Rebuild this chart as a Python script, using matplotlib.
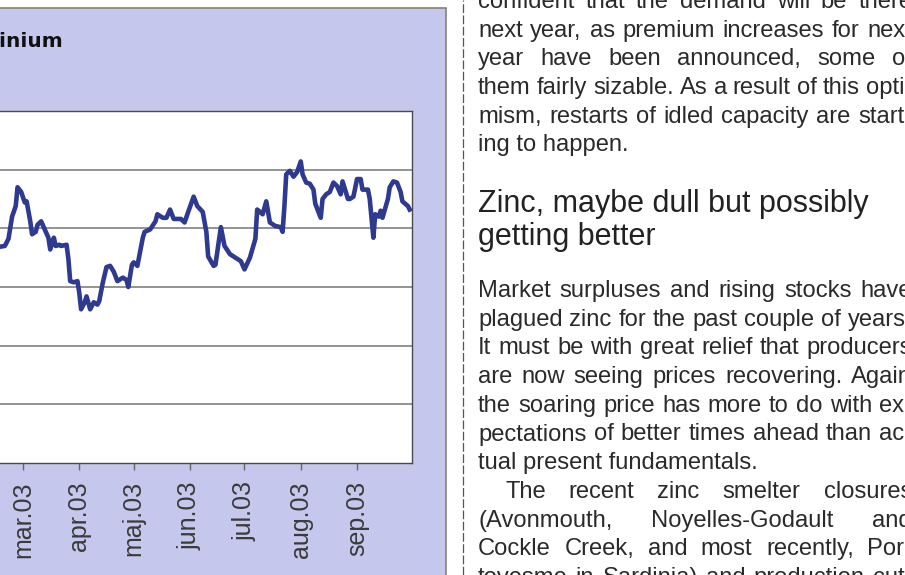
import matplotlib
matplotlib.use("Agg")
import matplotlib.pyplot as plt
from matplotlib.patches import Rectangle
from matplotlib.lines import Line2D
import pandas as pd

W, H = 905, 575

# LME aluminium, USD/t, Feb-Sep 2003
dates = ["2003-02-15", "2003-02-19", "2003-02-21", "2003-02-23", "2003-02-25", "2003-02-26",
         "2003-02-28", "2003-03-02", "2003-03-03", "2003-03-05", "2003-03-06", "2003-03-08",
         "2003-03-09", "2003-03-11", "2003-03-13", "2003-03-15", "2003-03-16", "2003-03-18",
         "2003-03-19", "2003-03-21", "2003-03-22", "2003-03-25", "2003-03-26", "2003-03-27",
         "2003-03-29", "2003-03-31", "2003-04-01", "2003-04-02", "2003-04-04", "2003-04-05",
         "2003-04-07", "2003-04-09", "2003-04-11", "2003-04-12", "2003-04-14", "2003-04-16",
         "2003-04-18", "2003-04-20", "2003-04-22", "2003-04-25", "2003-04-27", "2003-04-28",
         "2003-04-30", "2003-05-01", "2003-05-03", "2003-05-06", "2003-05-07", "2003-05-10",
         "2003-05-13", "2003-05-14", "2003-05-17", "2003-05-19", "2003-05-21", "2003-05-23",
         "2003-05-27", "2003-05-29", "2003-05-31", "2003-06-03", "2003-06-05", "2003-06-08",
         "2003-06-10", "2003-06-11", "2003-06-14", "2003-06-15", "2003-06-18", "2003-06-20",
         "2003-06-23", "2003-06-26", "2003-06-29", "2003-07-01", "2003-07-04", "2003-07-07",
         "2003-07-08", "2003-07-11", "2003-07-13", "2003-07-15", "2003-07-18", "2003-07-21",
         "2003-07-22", "2003-07-23", "2003-07-24", "2003-07-26", "2003-07-28", "2003-07-30",
         "2003-08-01", "2003-08-02", "2003-08-04", "2003-08-06", "2003-08-08", "2003-08-09",
         "2003-08-12", "2003-08-13", "2003-08-15", "2003-08-17", "2003-08-19", "2003-08-21",
         "2003-08-23", "2003-08-24", "2003-08-27", "2003-08-28", "2003-08-30", "2003-09-01",
         "2003-09-03", "2003-09-04", "2003-09-07", "2003-09-08", "2003-09-10", "2003-09-11",
         "2003-09-13", "2003-09-14", "2003-09-15", "2003-09-18", "2003-09-19", "2003-09-21",
         "2003-09-23", "2003-09-25", "2003-09-26", "2003-09-29", "2003-09-30"]
prices = [1384, 1385, 1391, 1410, 1419, 1435,
          1431, 1422, 1423, 1406, 1395, 1397,
          1403, 1406, 1399, 1392, 1382, 1392,
          1385, 1386, 1385, 1386, 1374, 1355,
          1354, 1355, 1345, 1331, 1337, 1342,
          1331, 1337, 1335, 1338, 1354, 1367,
          1368, 1363, 1355, 1358, 1356, 1350,
          1369, 1371, 1368, 1392, 1397, 1399,
          1406, 1412, 1409, 1409, 1416, 1408,
          1408, 1405, 1414, 1427, 1419, 1414,
          1397, 1376, 1368, 1369, 1401, 1385,
          1378, 1375, 1372, 1365, 1375, 1391,
          1416, 1412, 1423, 1405, 1402, 1401,
          1397, 1419, 1446, 1449, 1444, 1448,
          1457, 1446, 1439, 1438, 1433, 1421,
          1409, 1425, 1429, 1431, 1439, 1436,
          1429, 1440, 1425, 1425, 1427, 1442,
          1442, 1433, 1433, 1425, 1392, 1412,
          1410, 1415, 1409, 1425, 1435, 1440,
          1439, 1431, 1423, 1419, 1416]
month_ticks = ["2003-03-01", "2003-04-01", "2003-05-01", "2003-06-01",
               "2003-07-01", "2003-08-01", "2003-09-01"]
month_labels = ["mar.03", "apr.03", "maj.03", "jun.03", "jul.03", "aug.03", "sep.03"]
grid_levels = [1250, 1300, 1350, 1400, 1450]

intro_lines = ["confident that the demand will be there",
               "next year, as premium increases for next",
               "year have been announced, some of",
               "them fairly sizable. As a result of this opti-",
               "mism, restarts of idled capacity are start-",
               "ing to happen."]
heading_lines = ["Zinc, maybe dull but possibly", "getting better"]
zinc_par1 = ["Market surpluses and rising stocks have",
             "plagued zinc for the past couple of years.",
             "It must be with great relief that producers",
             "are now seeing prices recovering. Again",
             "the soaring price has more to do with ex-",
             "pectations of better times ahead than ac-",
             "tual present fundamentals."]
zinc_par2 = ["The recent zinc smelter closures",
             "(Avonmouth, Noyelles-Godault and",
             "Cockle Creek, and most recently, Por-",
             "tovesme in Sardinia) and production cut-"]


def fx(x):
    return x / W


def fy(y):
    return 1 - y / H


fig = plt.figure(figsize=(W / 100, H / 100), dpi=100)
fig.patch.set_facecolor("white")

# lavender chart panel
panel = Rectangle((fx(-10), fy(H + 10)), fx(456), fy(8) - fy(H + 10),
                  transform=fig.transFigure, facecolor="#c6c7ec",
                  edgecolor="#85846f", lw=1.2, zorder=-1)
fig.add_artist(panel)

ax = fig.add_axes([fx(-11.5), fy(463), 423 / W, (463 - 111) / H])
ax.set_facecolor("white")
ax.plot(pd.to_datetime(dates), prices, color="#2d3a8f", lw=3.3, zorder=3)
ax.set_xlim(pd.Timestamp("2003-02-10"), pd.Timestamp("2003-10-01"))
ax.set_ylim(1200, 1500)
ax.set_yticks(grid_levels)
ax.yaxis.grid(True, color="#8a8a8a", lw=1.3)
ax.set_axisbelow(True)
ax.tick_params(axis="y", left=False, labelleft=False)
ax.set_xticks(pd.to_datetime(month_ticks))
ax.set_xticklabels(month_labels, rotation=90, fontsize=18,
                   family="Liberation Sans", color="#3a3a3a")
ax.tick_params(axis="x", direction="out", length=5, width=1,
               color="#666666", pad=8)
for s in ax.spines.values():
    s.set_color("#4a4a4a")
    s.set_linewidth(1.0)

fig.text(fx(64), fy(47), "Aluminium", ha="right", va="baseline",
         fontsize=14.5, fontweight="bold", family="DejaVu Sans", color="#111111")

# column separator
fig.add_artist(Line2D([fx(463), fx(463)], [0, 1], transform=fig.transFigure,
                      color="#555555", lw=0.9, ls=(0, (7, 2))))

renderer = fig.canvas.get_renderer()
body = dict(family="Liberation Sans", fontsize=17.1, color="#2a2a2a")
L, R = 478, 912
min_gap = 0.22 * 17.1 * 100 / 72


def put_line(text, y, justify=True, x0=L, style=body):
    words = text.split()
    if not justify or len(words) < 2:
        fig.text(fx(x0), fy(y), text, ha="left", va="baseline", **style)
        return
    arts = [fig.text(0, fy(y), w, ha="left", va="baseline", **style) for w in words]
    widths = [a.get_window_extent(renderer).width for a in arts]
    gap = max((R - x0 - sum(widths)) / (len(words) - 1), min_gap)
    x = x0
    for a, w in zip(arts, widths):
        a.set_x(fx(x))
        x += w + gap


step = 28.7
for i, t in enumerate(intro_lines):
    put_line(t, 8 + i * step, justify=i < len(intro_lines) - 1)

head = dict(family="Liberation Sans", fontsize=22, color="#222222")
for i, t in enumerate(heading_lines):
    put_line(t, 212 + i * 33, justify=False, style=head)

for i, t in enumerate(zinc_par1):
    put_line(t, 297 + i * step, justify=i < len(zinc_par1) - 1)

y0 = 297 + len(zinc_par1) * step
for i, t in enumerate(zinc_par2):
    put_line(t, y0 + i * step, x0=505 if i == 0 else L)

fig.savefig("out.png", dpi=100)
